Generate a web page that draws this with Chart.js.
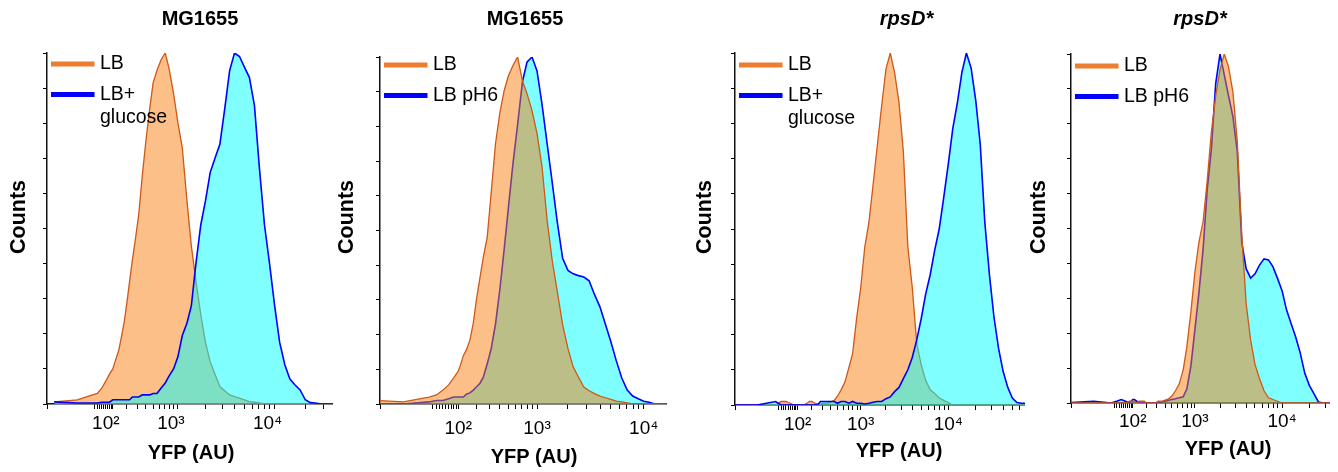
<!DOCTYPE html>
<html>
<head>
<meta charset="utf-8">
<title>YFP histograms</title>
<script src="https://cdn.jsdelivr.net/npm/chart.js@4"></script>
<style>
  body { margin: 0; background: #fff; }
  #wrap { position: relative; width: 1338px; height: 472px; background: #fff; }
  #wrap canvas { position: absolute; top: 0; }
</style>
</head>
<body>
<div id="wrap"></div>
<script>
// YFP bin centres (AU), shared by every histogram
const yfpBins = [-100, -50, 0, 20, 40, 60, 80,
    100, 110, 125, 140, 160, 180, 200, 225, 250, 280, 315, 355, 400, 450, 500, 560, 630, 710, 790, 890,
    1000, 1120, 1260, 1410, 1580, 1780, 2000, 2240, 2510, 2820, 3160, 3550, 3980, 4470, 5010, 5620, 6310, 7080, 7940, 8910,
    10000, 11200, 12600, 14100, 15800, 17800, 20000, 22400, 25100, 28200, 31600, 35500, 39800, 44700, 50100, 56200, 63100, 70800];

// Counts, as % of the tallest bin of each histogram
const mgLB = [0.6, 1.2, 2.6, 3, 4.5, 6.5, 8.5, 10, 11.5, 13.5,
    15.5, 19.5, 23.5, 28.5, 35, 41, 47, 54, 65, 75,
    84, 91.5, 95, 98, 100, 95.5, 88.5, 80, 73, 58,
    45, 35, 25.5, 17.5, 12, 8.5, 5, 3.8, 2.6, 2.1,
    1.7, 1.2, 0.7, 0.5, 0.3, 0, 0, 0, 0, 0,
    0, 0, 0, 0, 0, 0, 0, 0, 0, 0, 0, 0, 0, 0, 0];
const mgGlucose = [0.6, 0.3, 0.3, 0.3, 0.5, 0.5, 0.5, 1.2, 1.2, 1.2,
    1.2, 1.2, 1.2, 1.2, 1.2, 2, 2, 2, 2.6, 2.6,
    2.6, 3, 3, 4.5, 6, 8, 10, 13.5, 19.5, 23,
    28, 40, 51, 58, 66, 70, 74, 84, 95, 100,
    99, 96, 93, 85, 67, 51, 40, 28, 17.6, 11.2,
    7.2, 5.5, 4, 1.2, 0.4, 0.3, 0, 0, 0, 0, 0, 0, 0, 0, 0];
const mgLB2 = [1.5, 0.6, 2, 2.6, 4, 5.5, 7.5, 9.5, 11.2, 14,
    15.6, 18.4, 23.3, 30, 36.5, 42.5, 48, 61, 75, 84,
    90.5, 94.5, 97.5, 100, 93, 89.5, 84.5, 78, 68.5, 53,
    41.5, 32.5, 22.8, 16, 10.7, 7.8, 4.9, 3.8, 3, 2.3,
    1.8, 1.3, 0.8, 0.6, 0.3, 0, 0, 0, 0, 0,
    0, 0, 0, 0, 0, 0, 0, 0, 0, 0, 0, 0, 0, 0, 0];
const mgPH6 = [0, 0, 0.6, 1, 1, 1.5, 2, 2, 2, 2,
    2.8, 3.2, 4, 4.9, 6, 7.8, 11.5, 16, 23, 33,
    45, 56.5, 69, 80.5, 93, 98.5, 100, 96, 86.5, 75,
    64, 52.5, 42, 38.5, 37.5, 37, 36.6, 35.5, 31.5, 28,
    23, 18, 12.5, 7.5, 4, 2.3, 1.5, 0.8, 0.5, 0,
    0, 0, 0, 0, 0, 0, 0, 0, 0, 0, 0, 0, 0, 0, 0];
const rpsLB = [0, 0, 0, 1, 1, 0.5, 0, 0, 0, 0,
    0, 0.5, 1, 1, 0.5, 0.3, 0.3, 0.5, 0.5, 0.8,
    1.3, 2.5, 4.3, 6.5, 10.7, 14.5, 24.7, 33.3, 44.8, 52,
    62.5, 73.5, 85, 95.5, 100, 94.5, 86, 72, 45, 33.5,
    17.5, 11.5, 7, 4.3, 3.3, 2, 1.3, 0.7, 0, 0,
    0, 0, 0, 0, 0, 0, 0, 0, 0, 0, 0, 0, 0, 0, 0];
const rpsGlucose = [0, 0, 1, 0, 0, 0, 0, 0, 0, 0,
    0, 0, 0, 0, 0, 0, 1, 1, 1, 1,
    1, 0.5, 1, 1, 0.5, 1, 0.5, 0.5, 0.3, 0.5,
    0.8, 1, 1, 1.8, 2.3, 3.8, 5, 7.5, 10, 13.5,
    18.5, 24.5, 31.5, 37, 44, 50, 59, 68.5, 78.5, 86,
    94.5, 100, 95.7, 86.5, 74, 52, 37, 25, 16, 9.5,
    5, 2, 0.7, 0.5, 0.5];
const rpsLB2 = [0, 0, 0, 0, 0, 0, 0.5, 0.5, 0.5, 0,
    0.5, 0.5, 0.5, 0, 0, 0, 0, 0.5, 0.5, 0.8,
    1.2, 2, 3.5, 5.5, 9.5, 16, 26, 37.5, 46, 52,
    63.5, 77.5, 88, 95.5, 100, 96.3, 89, 75, 48.5, 28.5,
    18, 11, 7, 3.5, 1.5, 1, 0.5, 0, 0, 0,
    0, 0, 0, 0, 0, 0, 0, 0, 0, 0, 0, 0, 0, 0, 0];
const rpsPH6 = [0, 0.5, 0, 0.5, 1, 0.5, 0, 1, 1, 0.5,
    0, 0, 0, 0, 0, 0, 0, 0, 0.3, 0.5,
    0.8, 1, 1.2, 1.5, 1.8, 4, 10.5, 21, 31.5, 44,
    61, 72.5, 91.5, 100, 94, 88, 82, 72, 46, 38.5,
    35.8, 37, 39.5, 41.3, 41, 39, 35.7, 32.2, 26.7, 22.7,
    19, 14.5, 8.5, 5, 2.7, 0.3, 0, 0, 0, 0, 0, 0, 0, 0, 0];

const panelTitles = ["MG1655", "MG1655", "rpsD*", "rpsD*"];
const conditionLabels = [["LB", "LB+\nglucose"], ["LB", "LB pH6"], ["LB", "LB+\nglucose"], ["LB", "LB pH6"]];
const seriesByPanel = [[mgLB, mgGlucose], [mgLB2, mgPH6], [rpsLB, rpsGlucose], [rpsLB2, rpsPH6]];
const tickLabels = { 100: "10\u00B2", 1000: "10\u00B3", 10000: "10\u2074" };

// where each panel sits on the page, and its axis range
const panelLayout = [
    { left: 5, width: 328, top: 53, axisY: 404, yAxisWidth: 42, min: -111, max: 37300, shift: 174, tickPad: 3.1, labelShift: -7,
      titleX: 200, xTitleX: 191, xTitleY: 453, countsX: 19.5, legendY: 64, italic: false, blueOnTop: true },
    { left: 333, width: 334, top: 57, axisY: 404, yAxisWidth: 47, min: -77, max: 16100, shift: 121, tickPad: 8.6, labelShift: 0,
      titleX: 525, xTitleX: 534, xTitleY: 457, countsX: 347.5, legendY: 65, italic: false, blueOnTop: false },
    { left: 691, width: 334, top: 53, axisY: 405, yAxisWidth: 44, min: -86, max: 68800, shift: 135, tickPad: 3.6, labelShift: 0,
      titleX: 906.5, xTitleX: 899, xTitleY: 451.5, countsX: 705.5, legendY: 65, italic: true, blueOnTop: true },
    { left: 1025, width: 305, top: 54, axisY: 403, yAxisWidth: 46, min: -89, max: 33600, shift: 140, tickPad: 2.1, labelShift: 0,
      titleX: 1200, xTitleX: 1228, xTitleY: 449.5, countsX: 1039.5, legendY: 66, italic: true, blueOnTop: false }
];

const FONT = '"Liberation Sans", Arial, sans-serif';
const LB_FILL = "rgba(248, 128, 16, 0.5)";
const LB_LINE = "rgb(206, 88, 24)";
const LB_KEY = "#ED7D31";
const ALT_FILL = "rgba(0, 255, 255, 0.5)";
const ALT_LINE = "#0000FF";

// Biexponential-like axis: log10(value + shift), so the low decades get squeezed
class BiexScale extends Chart.Scale {
    determineDataLimits() {
        this.min = this.options.min;
        this.max = this.options.max;
    }
    buildTicks() {
        const ticks = [{ value: this.min }];
        for (let d = 10; d <= this.max; d *= 10) {
            for (let m = 1; m <= 9; m++) {
                const v = m * d;
                if (v > this.min && v < this.max) ticks.push({ value: v });
            }
        }
        return ticks;
    }
    tf(v) {
        return Math.log10(v + this.options.shift);
    }
    getPixelForValue(v) {
        const a = this.tf(this.min), b = this.tf(this.max);
        return this.getPixelForDecimal((this.tf(v) - a) / (b - a));
    }
    getValueForPixel(p) {
        const a = this.tf(this.min), b = this.tf(this.max);
        return Math.pow(10, a + this.getDecimalForPixel(p) * (b - a)) - this.options.shift;
    }
    getLabelForValue(v) {
        return String(v);
    }
}
BiexScale.id = "biex";
BiexScale.defaults = {};
Chart.register(BiexScale);

// Titles, axis names and the inline legend
const panelText = {
    id: "panelText",
    afterDraw(chart, args, o) {
        const ctx = chart.ctx;
        const area = chart.chartArea;
        ctx.save();
        ctx.fillStyle = "#000";
        ctx.textBaseline = "middle";
        ctx.textAlign = "center";

        ctx.font = (o.italic ? "italic " : "") + "bold 20px " + FONT;
        ctx.fillText(o.title, o.titleX - o.left, 19.5);

        ctx.font = "bold 20px " + FONT;
        ctx.fillText("YFP (AU)", o.xTitleX - o.left, o.xTitleY);

        ctx.save();
        ctx.translate(o.countsX - o.left, 217);
        ctx.rotate(-Math.PI / 2);
        ctx.font = "bold 21.5px " + FONT;
        ctx.fillText("Counts", 0, 0);
        ctx.restore();

        ctx.font = "19.5px " + FONT;
        ctx.textAlign = "left";
        chart.data.datasets.forEach((ds, i) => {
            const y = o.legendY + i * 30.5;
            const x0 = area.left + 4;
            ctx.strokeStyle = ds.keyColor;
            ctx.lineWidth = 5;
            ctx.beginPath();
            ctx.moveTo(x0, y);
            ctx.lineTo(x0 + 43.5, y);
            ctx.stroke();
            ds.label.split("\n").forEach((line, j) => ctx.fillText(line, x0 + 49, y + j * 23));
        });
        ctx.restore();
    }
};

function makePanel(idx) {
    const p = panelLayout[idx];
    const canvas = document.createElement("canvas");
    canvas.width = p.width;
    canvas.height = 472;
    canvas.style.left = p.left + "px";
    document.getElementById("wrap").appendChild(canvas);

    const [lbValues, altValues] = seriesByPanel[idx];
    const [lbLabel, altLabel] = conditionLabels[idx];
    const toPoints = (vals) => yfpBins.map((x, i) => ({ x: x, y: vals[i] }));

    new Chart(canvas, {
        type: "line",
        data: {
            datasets: [
                {
                    label: lbLabel,
                    data: toPoints(lbValues),
                    borderColor: LB_LINE,
                    backgroundColor: LB_FILL,
                    keyColor: LB_KEY,
                    borderWidth: 1.3,
                    fill: "origin",
                    order: p.blueOnTop ? 1 : 0,
                },
                {
                    label: altLabel,
                    data: toPoints(altValues),
                    borderColor: ALT_LINE,
                    backgroundColor: ALT_FILL,
                    keyColor: ALT_LINE,
                    borderWidth: 1.6,
                    fill: "origin",
                    order: p.blueOnTop ? 0 : 1,
                },
            ],
        },
        options: {
            responsive: false,
            animation: false,
            events: [],
            elements: { point: { radius: 0 }, line: { tension: 0 } },
            layout: { padding: { left: 0, right: 0, top: p.top, bottom: 0 } },
            plugins: {
                legend: { display: false },
                tooltip: { enabled: false },
                panelText: {
                    title: panelTitles[idx],
                    italic: p.italic,
                    left: p.left,
                    titleX: p.titleX,
                    xTitleX: p.xTitleX,
                    xTitleY: p.xTitleY,
                    countsX: p.countsX,
                    legendY: p.legendY,
                },
            },
            scales: {
                x: {
                    type: "biex",
                    position: "bottom",
                    min: p.min,
                    max: p.max,
                    shift: p.shift,
                    afterFit: (s) => { s.height = 472 - p.axisY; },
                    border: { display: true, color: "#111", width: 1.5 },
                    grid: { drawOnChartArea: false, drawTicks: true, tickLength: 5, color: "#000", lineWidth: 1 },
                    ticks: {
                        autoSkip: false,
                        maxRotation: 0,
                        minRotation: 0,
                        padding: p.tickPad,
                        labelOffset: p.labelShift,
                        color: "#000",
                        font: { family: FONT, size: 19 },
                        callback: (v) => tickLabels[v] || "",
                    },
                },
                y: {
                    type: "linear",
                    min: 0,
                    max: 100,
                    afterFit: (s) => { s.width = p.yAxisWidth; },
                    border: { display: true, color: "#111", width: 1.5 },
                    grid: { drawOnChartArea: false, drawTicks: true, tickLength: 4, color: "#000", lineWidth: 1 },
                    ticks: { stepSize: 10, display: false },
                },
            },
        },
        plugins: [panelText],
    });
}

panelLayout.forEach((p, i) => makePanel(i));
</script>
</body>
</html>
